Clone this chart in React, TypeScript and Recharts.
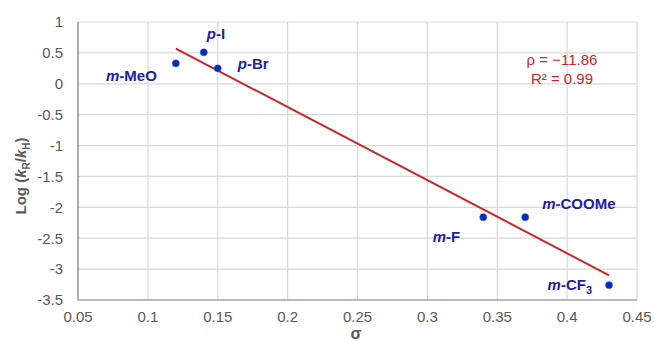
import { CartesianGrid, Scatter, ScatterChart, XAxis, YAxis } from 'recharts';

const substituents = ['m-MeO', 'p-I', 'p-Br', 'm-F', 'm-COOMe', 'm-CF3'];
const sigma = [0.12, 0.14, 0.15, 0.34, 0.37, 0.43];
const logRatio = [0.33, 0.51, 0.25, -2.16, -2.16, -3.26];

const trendSigma = [0.12, 0.43];
const trendLog = [0.57, -3.1];

const xTicks = [0.05, 0.1, 0.15, 0.2, 0.25, 0.3, 0.35, 0.4, 0.45];
const yTicks = [-3.5, -3, -2.5, -2, -1.5, -1, -0.5, 0, 0.5, 1];

// where each point's name sits relative to its dot
const labelPlacement: Record<string, { dx: number; dy: number; anchor: 'start' | 'end' }> = {
  'm-MeO': { dx: -19, dy: 12, anchor: 'end' },
  'p-I': { dx: 3, dy: -19, anchor: 'start' },
  'p-Br': { dx: 20, dy: -5, anchor: 'start' },
  'm-F': { dx: -23, dy: 20, anchor: 'end' },
  'm-COOMe': { dx: 17, dy: -13, anchor: 'start' },
  'm-CF3': { dx: -17, dy: 0, anchor: 'end' },
};

const points = substituents.map((name, i) => ({ name, x: sigma[i], y: logRatio[i] }));
const trend = trendSigma.map((x, i) => ({ x, y: trendLog[i] }));

const grey = '#595959';
const blue = '#1b22a8';
const red = '#c8272b';

function PointMark(props: any) {
  const { cx, cy, payload } = props;
  const name: string = payload.name;
  const place = labelPlacement[name];
  const prefix = name.slice(0, 1);
  let rest = name.slice(1);
  let sub = '';
  if (/\d$/.test(rest)) {
    sub = rest.slice(-1);
    rest = rest.slice(0, -1);
  }
  return (
    <g>
      <circle cx={cx} cy={cy} r={3.6} fill="#0a2cb8" stroke="#4a6ae0" strokeOpacity={0.4} strokeWidth={1} />
      <text
        x={cx + place.dx}
        y={cy + place.dy}
        dy="0.35em"
        textAnchor={place.anchor}
        fill={blue}
        fontSize={15}
        fontWeight="bold"
      >
        <tspan fontStyle="italic">{prefix}</tspan>
        <tspan>{rest}</tspan>
        {sub && <tspan fontSize={11} dy={4}>{sub}</tspan>}
      </text>
    </g>
  );
}

function YLabel(props: any) {
  const vb = props.viewBox || { x: 0 };
  const x = vb.x + 21;
  const y = 176;
  return (
    <text x={x} y={y} transform={`rotate(-90 ${x} ${y})`} textAnchor="middle" dy="0.35em" fill={grey} fontSize={15} fontWeight="bold">
      Log (<tspan fontStyle="italic">k</tspan>
      <tspan fontSize={10} dy={4}>R</tspan>
      <tspan dy={-4}>/</tspan>
      <tspan fontStyle="italic">k</tspan>
      <tspan fontSize={10} dy={4}>H</tspan>
      <tspan dy={-4}>)</tspan>
    </text>
  );
}

function XLabel() {
  return (
    <text x={356} y={339} textAnchor="middle" fill={grey} fontSize={16} fontWeight="bold">
      σ
    </text>
  );
}

export default function App() {
  return (
    <div style={{ position: 'relative', width: 654, height: 342, fontFamily: '"Liberation Sans", Arial, sans-serif' }}>
      <style>{'body{margin:0}'}</style>
      <ScatterChart width={654} height={342} margin={{ top: 22, right: 17, bottom: 0, left: 0 }}>
        <CartesianGrid stroke="#d9d9d9" strokeWidth={1.2} />
        <XAxis
          type="number"
          dataKey="x"
          domain={[0.05, 0.45]}
          ticks={xTicks}
          interval={0}
          height={42}
          axisLine={{ stroke: '#878787', strokeWidth: 1.2 }}
          tickLine={false}
          tickSize={0}
          tickMargin={11}
          tick={{ fill: grey, fontSize: 15 }}
          label={<XLabel />}
        />
        <YAxis
          type="number"
          dataKey="y"
          domain={[-3.5, 1]}
          ticks={yTicks}
          interval={0}
          width={78}
          axisLine={{ stroke: '#878787', strokeWidth: 1.2 }}
          tickLine={false}
          tickSize={0}
          tickMargin={15}
          tick={{ fill: grey, fontSize: 15 }}
          label={<YLabel />}
        />
        <Scatter
          data={trend}
          line={{ stroke: red, strokeWidth: 2 }}
          shape={() => <g />}
          legendType="none"
          isAnimationActive={false}
        />
        <Scatter data={points} shape={<PointMark />} isAnimationActive={false} />
      </ScatterChart>
      <div style={{ position: 'absolute', left: 482, top: 50, width: 160, textAlign: 'center', color: red, fontSize: 15, lineHeight: '19px' }}>
        <div>ρ = −11.86</div>
        <div>R² = 0.99</div>
      </div>
    </div>
  );
}
